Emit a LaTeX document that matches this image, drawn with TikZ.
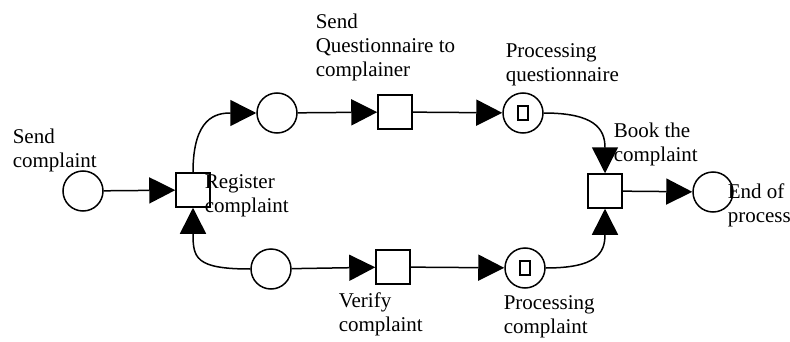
\documentclass[tikz,border=0pt]{standalone}
\usepackage{fontspec}
\setmainfont{Liberation Serif}
\usetikzlibrary{arrows.meta}
\tikzset{
	netnode/.style = {draw=black, line width=1.5pt, inner sep=0pt},
	place/.style = {netnode, circle, minimum size=40pt},% reseau de petri, place
	trans/.style = {netnode, rectangle, minimum size=34pt},% reseau de petri, transition
	token/.style = {netnode, rectangle, minimum width=10pt,
		minimum height=14pt},% jeton
	lbl/.style = {align=left, inner sep=0pt, anchor=north west,
		font=\fontsize{21}{24}\selectfont}% etiquette
}
\begin{document}
\begin{tikzpicture}[x=1pt, y=1pt, line width=1.5pt,
		>={Triangle[length=26pt, width=26pt]}]
			\useasboundingbox (0,0) rectangle (790,341);
			% places et transitions
			\node [place] (pSend) at (83,150) {};
			\node [trans] (tReg) at (193,151) {};
			\node [place] (pUp) at (277,228) {};
			\node [trans] (tQuest) at (395,229) {};
			\node [place] (pProcQ) at (523,228) {};
			\node [token] (kProcQ) at (pProcQ) {};
			\node [place] (pLow) at (271,72) {};
			\node [trans] (tVer) at (393,74) {};
			\node [place] (pProcC) at (525,73) {};
			\node [token] (kProcC) at (pProcC) {};
			\node [trans] (tBook) at (605,150) {};
			\node [place] (pEnd) at (713,149) {};
			% etiquettes
			\node [lbl] (lSend) at (12,213) {Send\\complaint};
			\node [lbl] (lReg) at (204,167) {Register\\complaint};
			\node [lbl] (lQuest) at (315,328) {Send\\Questionnaire to\\complainer};
			\node [lbl] (lProcQ) at (505,298) {Processing\\questionnaire};
			\node [lbl] (lBook) at (613,219) {Book the\\complaint};
			\node [lbl] (lEnd) at (727,158) {End of\\process};
			\node [lbl] (lVer) at (338,49) {Verify\\complaint};
			\node [lbl] (lProcC) at (503,46) {Processing\\complaint};
			% arcs
			\draw [->] (pSend) -- (tReg);
			\draw [->] (tReg.north) .. controls +(0,55) and +(-40,0) .. (pUp.west);
			\draw [->] (pUp) -- (tQuest);
			\draw [->] (tQuest) -- (pProcQ);
			\draw [->] (pProcQ.east) .. controls +(50,0) and +(0,45) .. (tBook.north);
			\draw [->] (pLow.west) .. controls +(-55,0) and +(0,-50) .. (tReg.south);
			\draw [->] (pLow) -- (tVer);
			\draw [->] (tVer) -- (pProcC);
			\draw [->] (pProcC.east) .. controls +(50,0) and +(0,-45) .. (tBook.south);
			\draw [->] (tBook) -- (pEnd);
\end{tikzpicture}
\end{document}
